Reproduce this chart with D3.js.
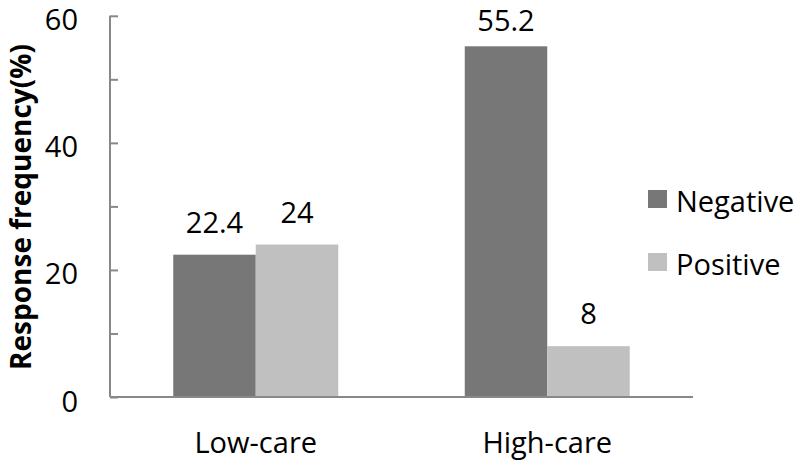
<!DOCTYPE html>
<html>
<head>
<meta charset="utf-8">
<script src="https://cdn.jsdelivr.net/npm/d3@7"></script>
<style>
  body { margin: 0; background: #fff; }
  text { font-family: "Open Sans", sans-serif; fill: #000; }
</style>
</head>
<body>
<div id="chart"></div>
<script>
// data
let categories = ["Low-care", "High-care"];
let series = ["Negative", "Positive"];
let negative_values = [22.4, 55.2];
let positive_values = [24, 8];
let y_ticks = [0, 20, 40, 60];
let y_minor_ticks = [10, 30, 50];
let colors = ["#777777", "#c0c0c0"];

let width = 800;
let height = 462;

let opts = {
  left: 110,
  right: 693,
  top: 15.8,
  bottom: 397,
  font_size: 29,
};

let svg = d3
  .select("#chart")
  .append("svg")
  .attr("width", width)
  .attr("height", height);

// build rows for the grouped bars
let rows = categories.map((c, i) => ({
  category: c,
  values: [
    { series: series[0], value: negative_values[i] },
    { series: series[1], value: positive_values[i] },
  ],
}));

let x0 = d3
  .scaleBand()
  .domain(categories)
  .range([opts.left, opts.right])
  .paddingInner(0.434)
  .paddingOuter(0.217);

let x1 = d3.scaleBand().domain(series).range([0, x0.bandwidth()]);

let y = d3.scaleLinear().domain([0, 60]).range([opts.bottom, opts.top]);

let color = d3.scaleOrdinal().domain(series).range(colors);

// bars
let groups = svg
  .selectAll(".group")
  .data(rows)
  .join("g")
  .attr("class", "group")
  .attr("transform", (d) => `translate(${x0(d.category)},0)`);

groups
  .selectAll("rect")
  .data((d) => d.values)
  .join("rect")
  .attr("x", (d) => x1(d.series))
  .attr("y", (d) => y(d.value))
  .attr("width", x1.bandwidth())
  .attr("height", (d) => y(0) - y(d.value))
  .attr("fill", (d) => color(d.series));

// value labels (kept inside the top edge)
groups
  .selectAll(".val")
  .data((d) => d.values)
  .join("text")
  .attr("class", "val")
  .attr("x", (d) => x1(d.series) + x1.bandwidth() / 2)
  .attr("y", (d) => Math.max(y(d.value) - 22, 31))
  .attr("text-anchor", "middle")
  .attr("font-size", opts.font_size)
  .text((d) => d.value);

// y axis, ticks drawn inside
let yAxis = svg
  .append("g")
  .attr("transform", `translate(${opts.left},0)`)
  .call(
    d3
      .axisRight(y)
      .tickValues(y_ticks.concat(y_minor_ticks))
      .tickSize(8)
      .tickFormat("")
  );
yAxis.select(".domain").remove();
yAxis.selectAll("line").attr("stroke", "#888").attr("stroke-width", 2);

svg
  .append("line")
  .attr("x1", opts.left)
  .attr("x2", opts.left)
  .attr("y1", y(60))
  .attr("y2", y(0))
  .attr("stroke", "#888")
  .attr("stroke-width", 2);

svg
  .selectAll(".ytick")
  .data(y_ticks)
  .join("text")
  .attr("class", "ytick")
  .attr("x", 78)
  .attr("y", (d) => y(d) + 14.5)
  .attr("text-anchor", "end")
  .attr("font-size", opts.font_size)
  .text((d) => d);

// x axis
svg
  .append("line")
  .attr("x1", opts.left)
  .attr("x2", opts.right)
  .attr("y1", y(0))
  .attr("y2", y(0))
  .attr("stroke", "#888")
  .attr("stroke-width", 2);

svg
  .selectAll(".xlabel")
  .data(categories)
  .join("text")
  .attr("class", "xlabel")
  .attr("x", (d) => x0(d) + x0.bandwidth() / 2)
  .attr("y", 453)
  .attr("text-anchor", "middle")
  .attr("font-size", opts.font_size)
  .text((d) => d);

// axis title
svg
  .append("text")
  .attr("transform", "translate(31,207) rotate(-90)")
  .attr("text-anchor", "middle")
  .attr("font-size", 28)
  .attr("font-weight", "bold")
  .text("Response frequency(%)");

// legend
let legend = svg
  .selectAll(".legend")
  .data(series)
  .join("g")
  .attr("class", "legend")
  .attr("transform", (d, i) => `translate(648,${190 + i * 63})`);

legend
  .append("rect")
  .attr("width", 19)
  .attr("height", 18)
  .attr("fill", (d) => color(d));

legend
  .append("text")
  .attr("x", 28)
  .attr("y", 21.5)
  .attr("font-size", opts.font_size)
  .text((d) => d);
</script>
</body>
</html>
